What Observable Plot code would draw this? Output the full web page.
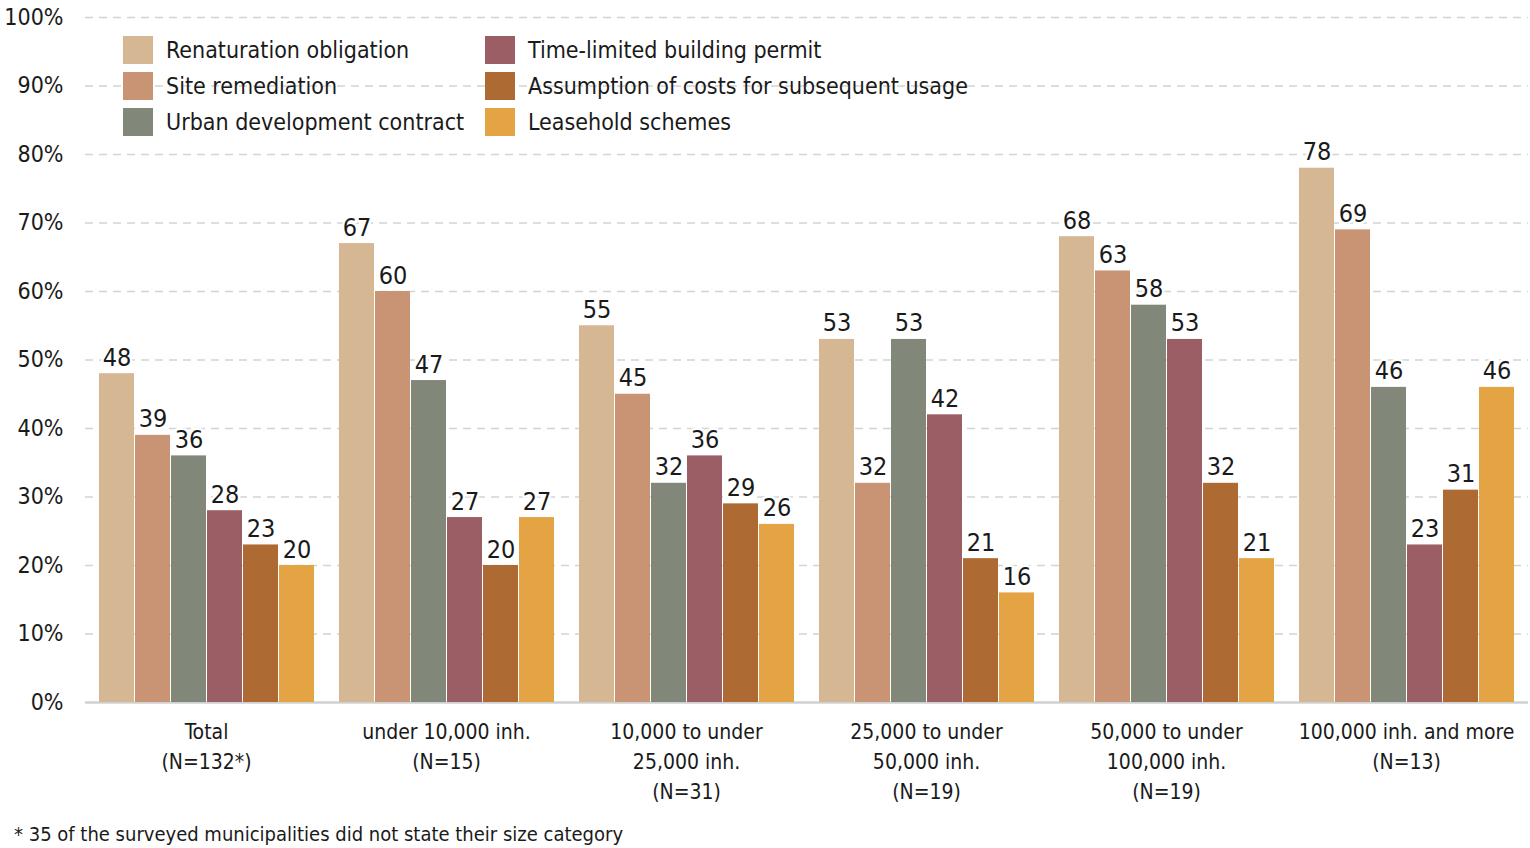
<!DOCTYPE html>
<html>
<head>
<meta charset="utf-8">
<script src="https://cdn.jsdelivr.net/npm/d3@7"></script>
<script src="https://cdn.jsdelivr.net/npm/@observablehq/plot@0.6"></script>
<style>
  html, body { margin: 0; padding: 0; background: #fff; }
  body { width: 1530px; height: 848px; overflow: hidden; font-family: "DejaVu Sans Condensed", "DejaVu Sans", sans-serif; font-stretch: condensed; color: #1a1a1a; }
  #wrap { position: relative; width: 1530px; height: 810px; }
  #wrap svg { position: absolute; left: 0; top: 0; }
  #legend { position: absolute; left: 123px; top: 36px; display: grid; grid-template-columns: 362px auto; row-gap: 8px; font-size: 23px; white-space: nowrap; }
  .item { display: flex; align-items: center; height: 28px; }
  .sw { width: 30px; height: 28px; margin-right: 13px; flex: none; }
  #foot { position: absolute; left: 14px; top: 822px; font-size: 20px; white-space: nowrap; }
</style>
</head>
<body>
<div id="wrap"></div>
<div id="foot">* 35 of the surveyed municipalities did not state their size category</div>
<script>
const groups = ["Total\n(N=132*)", "under 10,000 inh.\n(N=15)", "10,000 to under\n25,000 inh.\n(N=31)", "25,000 to under\n50,000 inh.\n(N=19)", "50,000 to under\n100,000 inh.\n(N=19)", "100,000 inh. and more\n(N=13)"];
const series = ["Renaturation obligation", "Site remediation", "Urban development contract", "Time-limited building permit", "Assumption of costs for subsequent usage", "Leasehold schemes"];
const colors = ["#d6b794", "#c89474", "#818779", "#9c5e65", "#ad6b33", "#e5a444"];
const renaturation = [48, 67, 55, 53, 68, 78];
const siteRemediation = [39, 60, 45, 32, 63, 69];
const urbanContract = [36, 47, 32, 53, 58, 46];
const timeLimited = [28, 27, 36, 42, 53, 23];
const assumptionCosts = [23, 20, 29, 21, 32, 31];
const leasehold = [20, 27, 26, 16, 21, 46];
const yTicks = [0, 10, 20, 30, 40, 50, 60, 70, 80, 90, 100];
const legendOrder = [0, 3, 1, 4, 2, 5];

const valuesBySeries = [renaturation, siteRemediation, urbanContract, timeLimited, assumptionCosts, leasehold];
const data = [];
groups.forEach((g, gi) => series.forEach((s, si) => data.push({group: g, series: s, value: valuesBySeries[si][gi]})));

const W = 1530, H = 810;
const FONT = '"DejaVu Sans Condensed", "DejaVu Sans", sans-serif';
const common = {width: W, height: H, marginLeft: 85, marginRight: 2, marginTop: 17, marginBottom: 108,
  style: {fontFamily: FONT, fontStretch: "condensed", background: "transparent", color: "#1a1a1a"}};

const back = Plot.plot({
  ...common,
  y: {domain: [0, 100], ticks: yTicks},
  marks: [
    Plot.gridY(yTicks.filter(d => d > 0), {stroke: "#d4d4d4", strokeOpacity: 1, strokeWidth: 1.5, strokeDasharray: "8,6"}),
    Plot.axisY(yTicks, {tickSize: 0, tickPadding: 22, fontSize: 23, tickFormat: d => d + "%", label: null}),
    Plot.ruleY([0], {stroke: "#d0d0d0", strokeWidth: 2.5})
  ]
});

const front = Plot.plot({
  ...common,
  fx: {domain: groups, paddingInner: 0.09, paddingOuter: 0.045, label: null},
  x: {domain: series, paddingInner: 0.04, paddingOuter: 0, axis: null},
  y: {domain: [0, 100], axis: null},
  color: {domain: series, range: colors},
  marks: [
    Plot.barY(data, {fx: "group", x: "series", y: "value", fill: "series"}),
    Plot.text(data, {fx: "group", x: "series", y: "value", text: d => String(d.value), dy: -16, fontSize: 25, fill: "#1a1a1a", stroke: "white", strokeWidth: 5}),
    Plot.axisFx({anchor: "bottom", tickSize: 0, tickPadding: 15, fontSize: 21, lineHeight: 1.43, label: null, textAnchor: "middle", lineAnchor: "top"})
  ]
});

const wrap = document.getElementById("wrap");
wrap.appendChild(back);
wrap.appendChild(front);

const legend = document.createElement("div");
legend.id = "legend";
legendOrder.forEach(i => {
  const it = document.createElement("div");
  it.className = "item";
  it.innerHTML = `<span class="sw" style="background:${colors[i]}"></span><span>${series[i]}</span>`;
  legend.appendChild(it);
});
wrap.appendChild(legend);
</script>
</body>
</html>
